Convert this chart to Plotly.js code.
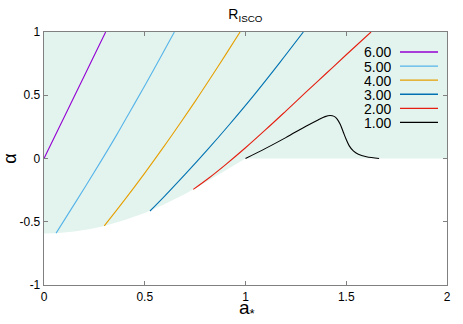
<!DOCTYPE html>
<html>
<head>
<meta charset="utf-8">
<script src="https://cdn.plot.ly/plotly-3.0.1.min.js"></script>
<style>
html,body{margin:0;padding:0;background:#fff;}
#chart{width:463px;height:324px;}
</style>
</head>
<body>
<div id="chart"></div>
<script>
// Allowed region boundary (lower edge of shaded area)
const aBoundary = [0, 0.06, 0.15, 0.23, 0.3, 0.4, 0.5, 0.6, 0.7, 0.8, 0.9, 1.0, 2.0];
const alphaBoundary = [-0.593, -0.59, -0.578, -0.558, -0.533, -0.487, -0.43, -0.36, -0.28, -0.19, -0.097, 0.0, 0.0];
const alphaTop = 1;

// Contour lines of R_ISCO
const labels = ["6.00", "5.00", "4.00", "3.00", "2.00", "1.00"];
const a6 = [0, 0.075, 0.15, 0.228, 0.306];
const al6 = [0, 0.245, 0.49, 0.745, 1.0];
const a5 = [0.06, 0.135, 0.21, 0.285, 0.36, 0.43, 0.5, 0.575, 0.647];
const al5 = [-0.59, -0.4, -0.21, -0.015, 0.185, 0.38, 0.575, 0.79, 1.0];
const a4 = [0.299, 0.4, 0.5, 0.592, 0.675, 0.75, 0.824, 0.9, 0.973];
const al4 = [-0.533, -0.327, -0.115, 0.088, 0.277, 0.452, 0.63, 0.817, 1.0];
const a3 = [0.526, 0.6, 0.7, 0.816, 0.915, 1.039, 1.171, 1.287];
const al3 = [-0.415, -0.295, -0.126, 0.078, 0.259, 0.495, 0.76, 1.0];
const a2 = [0.741, 0.82, 0.9, 1.0, 1.1, 1.2, 1.3, 1.4, 1.5, 1.623];
const al2 = [-0.244, -0.152, -0.05, 0.085, 0.228, 0.375, 0.524, 0.672, 0.82, 1.0];
const a1 = [1.0, 1.1, 1.2, 1.3, 1.36, 1.395, 1.42, 1.44, 1.455, 1.47, 1.485, 1.5, 1.515, 1.535, 1.56, 1.6, 1.663];
const al1 = [0.0, 0.08, 0.165, 0.255, 0.305, 0.331, 0.34, 0.333, 0.312, 0.27, 0.21, 0.15, 0.1, 0.06, 0.033, 0.014, 0.0];

const xTickVals = [0, 0.5, 1, 1.5, 2];
const xTickText = ["0", "0.5", "1", "1.5", "2"];
const yTickVals = [-1, -0.5, 0, 0.5, 1];
const yTickText = ["-1", "-0.5", "0", "0.5", "1"];

const colors = ["#9400d3", "#56b4e9", "#e69f00", "#0072b2", "#e51e10", "#000000"];
const xs = [a6, a5, a4, a3, a2, a1];
const ys = [al6, al5, al4, al3, al2, al1];

const fillX = [0].concat(aBoundary, [aBoundary[aBoundary.length - 1], 0]);
const fillY = [alphaTop].concat(alphaBoundary, [alphaTop, alphaTop]);

const traces = [{
  x: fillX, y: fillY, type: "scatter", mode: "lines", fill: "toself",
  fillcolor: "#e3f4ee", line: {width: 0, color: "rgba(0,0,0,0)"},
  hoverinfo: "skip", showlegend: false
}];
for (let i = 0; i < labels.length; i++) {
  traces.push({
    x: xs[i], y: ys[i], type: "scatter", mode: "lines", name: labels[i],
    line: {color: colors[i], width: 1.1, shape: "spline", smoothing: 1},
    showlegend: false
  });
}

// Manual gnuplot-style legend (label left, sample right)
const plotL = 44, plotR = 447, plotT = 32, plotB = 285.3;
const legY0 = 52, legDY = 14.1;
const annotations = [];
const shapes = [];
for (let i = 0; i < labels.length; i++) {
  const py = legY0 + i * legDY;
  const yp = (plotB - py) / (plotB - plotT);
  annotations.push({
    xref: "paper", yref: "paper", x: (392 - plotL) / (plotR - plotL), y: yp,
    xanchor: "right", yanchor: "middle", showarrow: false, text: labels[i],
    height: 13, borderpad: 0,
    font: {size: 14, color: "#000", family: "Liberation Sans, Arial, sans-serif"}
  });
  shapes.push({
    type: "line", xref: "paper", yref: "paper",
    x0: (400 - plotL) / (plotR - plotL), x1: (438 - plotL) / (plotR - plotL),
    y0: yp, y1: yp, line: {color: colors[i], width: 1.3}
  });
}
// x-axis title placed like the reference
annotations.push({
  xref: "paper", yref: "paper", x: (247 - plotL) / (plotR - plotL), y: (plotB - 309) / (plotB - plotT),
  xanchor: "center", yanchor: "middle", showarrow: false, text: "a<sub>*</sub>",
  height: 18, borderpad: 0,
  font: {size: 19, color: "#000", family: "Liberation Sans, Arial, sans-serif"}
});

const axisCommon = {
  showgrid: false, zeroline: false, showline: true, linecolor: "#808080", linewidth: 1.3,
  mirror: "ticks", ticks: "inside", ticklen: 4, tickcolor: "#808080", tickwidth: 1,
  tickfont: {size: 12, color: "#000", family: "Liberation Sans, Arial, sans-serif"}
};

const layout = {
  width: 463, height: 324,
  margin: {l: plotL, r: 463 - plotR, t: plotT, b: 324 - plotB},
  paper_bgcolor: "#fff", plot_bgcolor: "#fff",
  font: {family: "Liberation Sans, Arial, sans-serif", color: "#000"},
  title: {text: "R<sub>ISCO</sub>", x: 0.53, xanchor: "center", y: 0.955, yanchor: "middle",
          font: {size: 14, color: "#000"}},
  xaxis: Object.assign({}, axisCommon, {
    range: [0, 2], tickvals: xTickVals, ticktext: xTickText
  }),
  yaxis: Object.assign({}, axisCommon, {
    range: [-1, 1], tickvals: yTickVals, ticktext: yTickText,
    title: {text: "α", font: {size: 18}, standoff: 9}
  }),
  showlegend: false,
  annotations: annotations,
  shapes: shapes
};

Plotly.newPlot("chart", traces, layout, {displayModeBar: false, staticPlot: true});
</script>
</body>
</html>
